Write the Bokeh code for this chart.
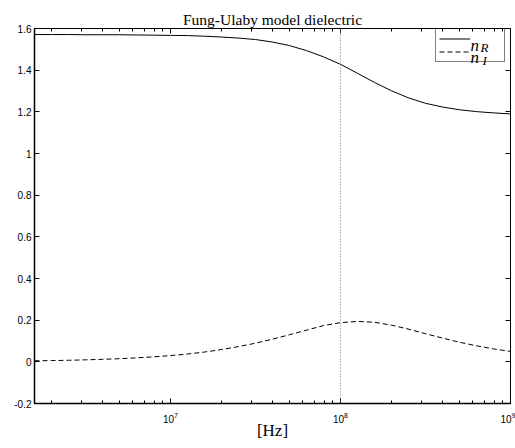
from bokeh.plotting import figure
from bokeh.models import (LogAxis, LinearAxis, Span, Legend, LegendItem, Label,
                          CustomJSTickFormatter, LogTicker, FixedTicker)
from bokeh.embed import file_html
from bokeh.resources import INLINE

# ---- data ----
freq_hz = [1.585e6, 1.995e6, 2.512e6, 3.162e6, 3.981e6, 5.012e6, 6.310e6, 7.943e6,
           1.0e7, 1.259e7, 1.585e7, 1.995e7, 2.512e7, 3.162e7, 3.981e7, 5.012e7, 6.310e7, 7.943e7,
           1.0e8, 1.259e8, 1.585e8, 1.995e8, 2.512e8, 3.162e8, 3.981e8, 5.012e8, 6.310e8, 7.943e8,
           1.0e9]
n_real = [1.571, 1.571, 1.571, 1.570, 1.570, 1.570, 1.569, 1.568,
          1.567, 1.566, 1.563, 1.559, 1.554, 1.547, 1.535, 1.518, 1.494, 1.464,
          1.428, 1.385, 1.341, 1.301, 1.267, 1.241, 1.223, 1.210, 1.201, 1.195,
          1.190]
n_imag = [0.005, 0.006, 0.0075, 0.0095, 0.012, 0.015, 0.019, 0.024,
          0.030, 0.0375, 0.047, 0.059, 0.073, 0.0895, 0.109, 0.130, 0.152, 0.174,
          0.188, 0.194, 0.190, 0.176, 0.157, 0.135, 0.114, 0.094, 0.077, 0.062,
          0.050]
marker_freq = 1e8
x_limits = (1.585e6, 1e9)
y_limits = (-0.2, 1.6)
y_ticks = [-0.2, 0, 0.2, 0.4, 0.6, 0.8, 1.0, 1.2, 1.4, 1.6]
title_text = "Fung-Ulaby model dielectric"
x_label = "[Hz]"
legend_base = ["n", "n"]
legend_subs = ["R", "I"]

SERIF = "Liberation Serif"
SANS = "Liberation Sans"

p = figure(width=515, height=448, x_axis_type="log",
           x_range=x_limits, y_range=y_limits,
           output_backend="svg", toolbar_location=None,
           min_border_left=34, min_border_right=5,
           min_border_top=28, min_border_bottom=45)
p.background_fill_color = "white"
p.border_fill_color = "white"
p.outline_line_color = "black"
p.outline_line_width = 1
p.xgrid.visible = False
p.ygrid.visible = False

p.title.text = title_text
p.title.align = "center"
p.title.text_font = SERIF
p.title.text_font_size = "15.5px"
p.title.text_font_style = "normal"
p.title.text_color = "black"
p.title.standoff = 2

yfmt = CustomJSTickFormatter(code="""
var s = tick.toFixed(1);
if (s.endsWith('.0')) { s = s.slice(0, -2); }
if (s == '-0') { s = '0'; }
return s;
""")

# bottom (log) axis
xa = p.xaxis[0]
xa.ticker = LogTicker(num_minor_ticks=10)
xa.major_tick_in = 5
xa.major_tick_out = 0
xa.minor_tick_in = 3
xa.minor_tick_out = 0
xa.major_label_text_font = SANS
xa.major_label_text_font_size = "10px"
xa.major_label_text_color = "black"
xa.major_label_standoff = 8
xa.axis_label = x_label
xa.axis_label_text_font = SERIF
xa.axis_label_text_font_size = "17px"
xa.axis_label_text_font_style = "normal"
xa.axis_label_text_color = "black"
xa.axis_label_standoff = -5
xa.axis_line_width = 1.5

# left axis
ya = p.yaxis[0]
ya.ticker = FixedTicker(ticks=y_ticks)
ya.formatter = yfmt
ya.major_tick_in = 5
ya.major_tick_out = 0
ya.minor_tick_in = 0
ya.minor_tick_out = 0
ya.major_label_text_font = SANS
ya.major_label_text_font_size = "10px"
ya.major_label_text_color = "black"
ya.major_label_standoff = 3
ya.axis_line_width = 1.5

# top axis (ticks only)
ta = LogAxis(ticker=LogTicker(num_minor_ticks=10), major_tick_in=5, major_tick_out=0,
             minor_tick_in=3, minor_tick_out=0, major_label_text_alpha=0,
             major_label_text_font_size="1px", major_label_standoff=5)
p.add_layout(ta, "above")
# right axis (ticks only)
ra = LinearAxis(ticker=FixedTicker(ticks=y_ticks), major_tick_in=5, major_tick_out=0,
                minor_tick_in=0, minor_tick_out=0, major_label_text_alpha=0,
                major_label_text_font_size="1px", major_label_standoff=0)
p.add_layout(ra, "right")

p.add_layout(Span(location=marker_freq, dimension="height", line_color="#777777",
                  line_width=1, line_dash="1 2"))

r1 = p.line(freq_hz, n_real, line_color="black", line_width=1)
r2 = p.line(freq_hz, n_imag, line_color="black", line_width=1, line_dash="5 3")

legend = Legend(items=[LegendItem(label=" ", renderers=[r1]),
                       LegendItem(label=" ", renderers=[r2])],
                location=(401, 341), border_line_color="black", border_line_width=1,
                label_text_font=SERIF, label_text_font_size="8px",
                label_height=13, glyph_height=13,
                glyph_width=31, label_standoff=1, spacing=0, padding=3, margin=0,
                label_width=30, background_fill_color="white", background_fill_alpha=0)
p.add_layout(legend)

base_y = [358, 346.5]
sub_y = [356.5, 343]
sub_x = [446, 448]
for i in range(2):
    p.add_layout(Label(x=436, y=base_y[i], x_units="screen", y_units="screen",
                       text=legend_base[i], text_font=SERIF, text_font_style="italic",
                       text_font_size="17px", text_color="black",
                       text_baseline="alphabetic", level="overlay"))
    p.add_layout(Label(x=sub_x[i], y=sub_y[i], x_units="screen", y_units="screen",
                       text=legend_subs[i], text_font=SERIF, text_font_style="italic",
                       text_font_size="13px", text_color="black",
                       text_baseline="alphabetic", level="overlay"))

open("out.html", "w").write(file_html(p, INLINE))
